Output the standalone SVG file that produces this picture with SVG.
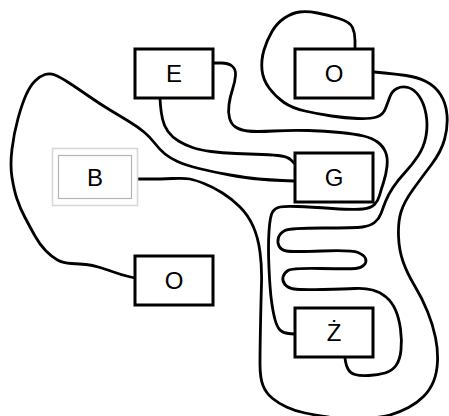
<svg xmlns="http://www.w3.org/2000/svg" width="449" height="416" viewBox="0 0 449 416">
<style>
.box{fill:#fff;stroke:#000;stroke-width:3}
.lbl{font-family:"Liberation Sans",Arial,sans-serif;font-size:24px;text-anchor:middle;fill:#000}
.edge{fill:none;stroke:#000;stroke-width:2.8;stroke-linecap:round;stroke-linejoin:round}
</style>
<rect width="449" height="416" fill="#fff"/>
<g id="connectors">
<path class="edge" d="M355,48 L355,40.5 Q355,33 352.5,27.5 Q350,22 339,18.5 Q328,15 317.5,13 Q307,11 299.5,12 Q292,13 284.5,18 Q277,23 272,31.5 Q267,40 264,50 Q261,60 262,70 Q263,80 269.5,88.5 Q276,97 284,102.5 Q292,108 305,111 Q318,114 331.5,116 Q345,118 357.5,118.5 Q370,119 376.5,117 Q383,115 385.5,108.5 Q388,102 390,96.5 Q392,91 397,88.5 Q402,86 408,87.5 Q414,89 419,96 Q424,103 426,114 Q428,125 426,136 Q424,147 418,156 Q412,165 405,172.5 Q398,180 393,187.5 Q388,195 385.5,201.5 Q383,208 381,213.5 Q379,219 374.5,222.5 Q370,226 362.5,227 Q355,228 322.5,228 Q290,228 285,230.5 Q280,233 278.5,237.5 Q277,242 279,246 Q281,250 286.5,251 Q292,252 322,251 Q352,250 358,252.5 Q364,255 365.5,258.5 Q367,262 364,265 Q361,268 355.5,268.5 Q350,269 321,268.5 Q292,268 288,270.5 Q284,273 283,277 Q282,281 285,284.5 Q288,288 294,289 Q300,290 322.5,289.5 Q345,289 355,288.5 Q365,288 372.5,290 Q380,292 386,297 Q392,302 395.5,310 Q399,318 400.5,329 Q402,340 401,350 Q400,360 396,365.5 Q392,371 385,373 Q378,375 369,375.5 Q360,376 355,374.5 Q350,373 348,369 Q346,365 345.5,361.5 L345,358"/>
<path class="edge" d="M374,72 L384.5,73 Q395,74 406,75.5 Q417,77 426,81.5 Q435,86 440.5,94.5 Q446,103 447,115 Q448,127 444.5,139.5 Q441,152 431.5,164.5 Q422,177 413,189.5 Q404,202 401,212 Q398,222 398.5,236 Q399,250 403,261.5 Q407,273 414.5,285.5 Q422,298 427.5,311.5 Q433,325 435.5,337.5 Q438,350 437.5,361.5 Q437,373 433.5,381.5 Q430,390 423.5,396.5 Q417,403 408.5,407.5 Q400,412 390,415 Q380,418 360,418.5 Q340,419 327.5,417 Q315,415 305,413 Q295,411 286.5,407 Q278,403 272,398 Q266,393 263,385.5 Q260,378 260,364 Q260,350 260.5,325 Q261,300 261.5,283.5 Q262,267 260,252 Q258,237 253,226 Q248,215 240,207 Q232,199 222.5,193 Q213,187 204,183.5 Q195,180 190,179 Q185,178 172.5,178.5 Q160,179 149,179 L136,179"/>
<path class="edge" d="M214,63 L221.5,63 Q228,63 232,66 Q236,69 235.5,75.5 Q235,82 232.5,89.5 Q230,97 229,104.5 Q228,112 229.5,118 Q231,124 235.5,127 Q240,130 247.5,131 Q255,132 273.5,131 Q292,130 308.5,130.5 Q325,131 340,132.5 Q355,134 363.5,136 Q372,138 377.5,142 Q383,146 385.5,152 Q388,158 387,166.5 Q386,175 383.5,182.5 Q381,190 379.5,195.5 Q378,201 374.5,204.5 Q371,208 363,209 Q355,210 332.5,208.5 Q310,207 297.5,206.5 Q285,206 280,207 Q275,208 272.5,212 Q270,216 269,231.5 Q268,247 269,268.5 Q270,290 271.5,301 Q273,312 275,319.5 Q277,327 280,330 Q283,333 288.5,333.5 L294,334"/>
<path class="edge" d="M160,99 L160.5,105.5 Q161,112 162.5,119 Q164,126 168,131.5 Q172,137 178.5,141 Q185,145 192.5,147.5 Q200,150 211,151.5 Q222,153 236,153.5 Q250,154 262.5,154.5 Q275,155 281.5,156 Q288,157 291,160 L294,163"/>
<path class="edge" d="M294,181 L282,180.5 Q270,180 258.5,179 Q247,178 230,175 Q213,172 199,168.5 Q185,165 177.5,161.5 Q170,158 165,154 Q160,150 155,143.5 Q150,137 144,132 Q138,127 129,121.5 Q120,116 110,110 Q100,104 88.5,96 Q77,88 68.5,82.5 Q60,77 55,75 Q50,73 45,74.5 Q40,76 35,81 Q30,86 26,95 Q22,104 18,118.5 Q14,133 12,149 Q10,165 12,177.5 Q14,190 17,199 Q20,208 25,217.5 Q30,227 35,236 Q40,245 46,251 Q52,257 57.5,260 Q63,263 71.5,263.5 Q80,264 86,264.5 Q92,265 100,267.5 Q108,270 115,272.5 Q122,275 128.5,276.5 L135,278"/>
</g>
<g id="node-E">
<rect class="box" x="135" y="49" width="78" height="49"/>
<text class="lbl" x="174" y="82">E</text>
</g>
<g id="node-O1">
<rect class="box" x="295" y="49" width="78" height="49"/>
<text class="lbl" x="334" y="82">O</text>
</g>
<g id="node-B">
<rect x="52.5" y="148.5" width="85" height="57" fill="#fff" stroke="#d8d8d8" stroke-width="1.6"/>
<rect x="58.5" y="155.5" width="73" height="43" fill="none" stroke="#b4b4b4" stroke-width="1.2"/>
<text class="lbl" x="95" y="186">B</text>
</g>
<g id="node-G">
<rect class="box" x="295" y="153" width="78" height="49"/>
<text class="lbl" x="334" y="186">G</text>
</g>
<g id="node-O2">
<rect class="box" x="135" y="256" width="78" height="49"/>
<text class="lbl" x="174" y="289">O</text>
</g>
<g id="node-Z">
<rect class="box" x="295" y="308" width="78" height="49"/>
<text class="lbl" x="334" y="341">Ż</text>
</g>
</svg>
